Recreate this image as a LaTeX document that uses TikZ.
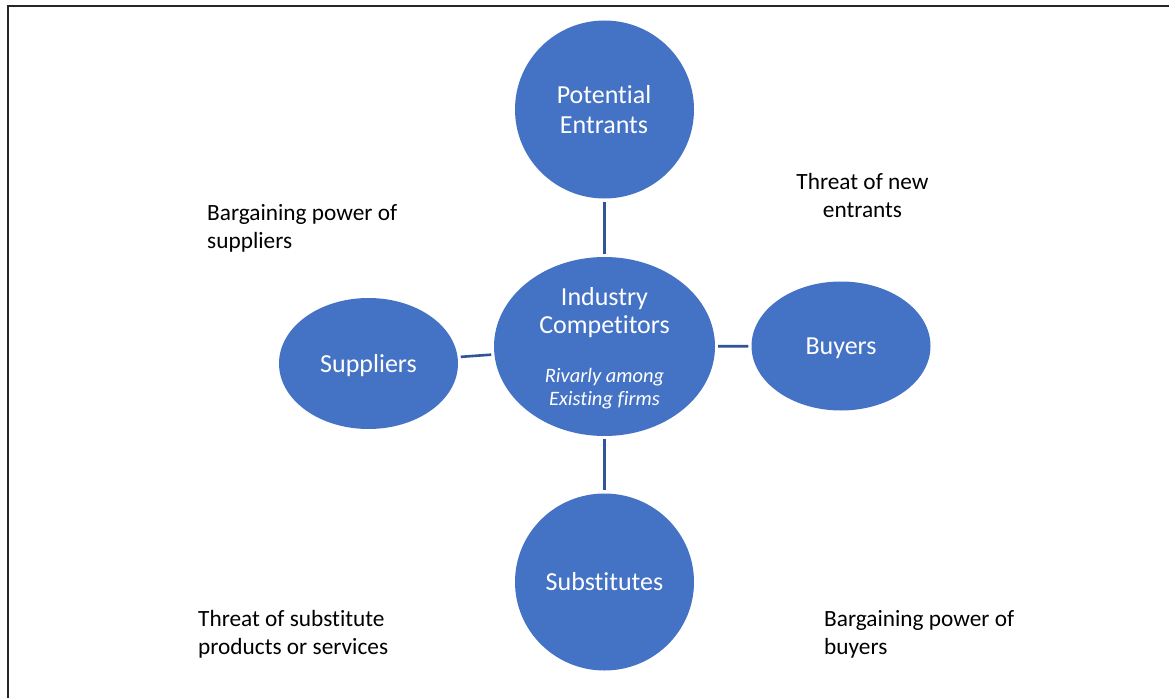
\documentclass[tikz,border=0pt]{standalone}
\usepackage{fontspec}
\setmainfont{Carlito}[Ligatures=NoCommon]
\usetikzlibrary{shapes.geometric}
\definecolor{fillblue}{HTML}{4472C4}
\definecolor{lineblue}{HTML}{2F5597}
\tikzset{
  force/.style={ellipse, fill=fillblue, draw=none, inner sep=0pt},
  nodetxt/.style={text=white, font=\fontsize{26}{30}\selectfont, align=center, inner sep=0pt},
  itxt/.style={text=white, font=\fontsize{20.5}{23.5}\selectfont\itshape, align=center, inner sep=0pt},
  lbl/.style={text=black, font=\fontsize{23.3}{29}\selectfont, inner sep=0pt},
  conn/.style={draw=lineblue, line width=2.6pt, shorten <=3pt, shorten >=3pt}
}
\begin{document}
\begin{tikzpicture}[x=1pt,y=-1pt]
\useasboundingbox (0,0) rectangle (1169,698);
\fill[white] (0,0) rectangle (1169,698);
\begin{scope}
\clip (0,0) rectangle (1169,698);
\draw[black!85, line width=2.2pt] (8,720) -- (8,6) -- (1190,6);
\end{scope}
% shapes
\node[force, minimum width=179pt, minimum height=178pt] (pot) at (604.5,109.5) {};
\node[force, minimum width=221pt, minimum height=179pt] (ind) at (604.5,346.5) {};
\node[force, minimum width=179pt, minimum height=131pt] (sup) at (368.5,363.5) {};
\node[force, minimum width=179pt, minimum height=129pt] (buy) at (841,346) {};
\node[force, minimum width=179pt, minimum height=177pt] (sub) at (604.5,582) {};
% connectors
\draw[conn] (pot) -- (ind);
\draw[conn] (ind) -- (sub);
\draw[conn] (sup) -- (ind);
\draw[conn] (ind) -- (buy);
% texts in shapes
\node[nodetxt, anchor=base] (potA) at (604,103) {Potential};
\node[nodetxt, anchor=base] (potB) at (604,133) {Entrants};
\node[nodetxt, anchor=base] (indA) at (604.5,305) {Industry};
\node[nodetxt, anchor=base] (indB) at (604.5,333) {Competitors};
\node[itxt, anchor=base] (indC) at (604.5,382) {Rivarly among};
\node[itxt, anchor=base] (indD) at (604.5,405) {Existing firms};
\node[nodetxt, anchor=base] (supT) at (368.5,372) {Suppliers};
\node[nodetxt, anchor=base] (buyT) at (841,354) {Buyers};
\node[nodetxt, anchor=base] (subT) at (604.5,590) {Substitutes};
% outer labels
\node[lbl, anchor=base west] (l1a) at (207,220) {Bargaining power of};
\node[lbl, anchor=base west] (l1b) at (207,248) {suppliers};
\node[lbl, anchor=base] (l2a) at (862.5,189) {Threat of new};
\node[lbl, anchor=base] (l2b) at (862.5,217) {entrants};
\node[lbl, anchor=base west] (l3a) at (198,626) {Threat of substitute};
\node[lbl, anchor=base west] (l3b) at (198,654) {products or services};
\node[lbl, anchor=base west] (l4a) at (824,626) {Bargaining power of};
\node[lbl, anchor=base west] (l4b) at (824,654) {buyers};
\end{tikzpicture}
\end{document}
